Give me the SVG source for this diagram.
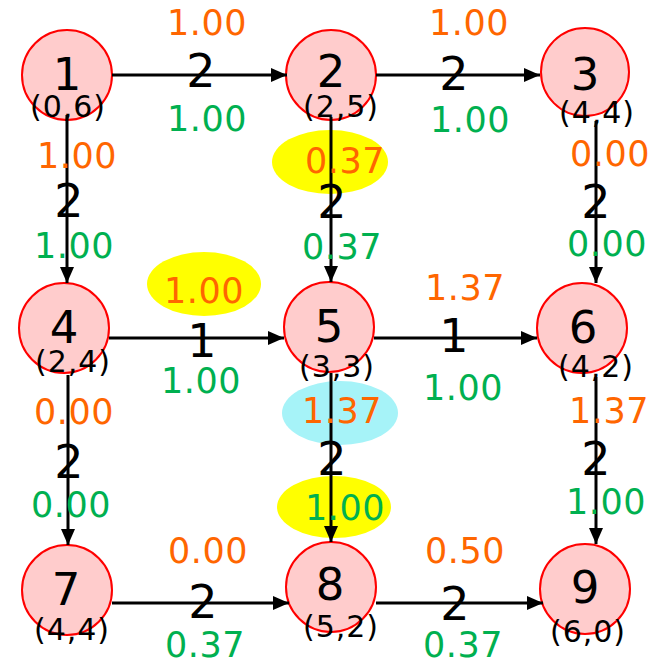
<svg xmlns="http://www.w3.org/2000/svg" width="658" height="664" viewBox="0 0 658 664">
<style>
text{font-family:"DejaVu Sans","Verdana",sans-serif;text-anchor:middle}
.n circle{fill:#FFCCCC;stroke:#FF0000;stroke-width:2}
.id{font-size:45px;fill:#000}
.cd{font-size:30px;fill:#000;letter-spacing:1px}
.w{font-size:46px;fill:#000}
.o{font-size:35px;fill:#FF6600;letter-spacing:0.5px}
.g{font-size:35px;fill:#00B050;letter-spacing:0.5px}
#edges line{stroke:#000;stroke-width:3;marker-end:url(#ah)}
</style>
<defs>
<marker id="ah" markerUnits="userSpaceOnUse" markerWidth="16" markerHeight="14" refX="16" refY="7" orient="auto">
<path d="M0,0 L16,7 L0,14 z" fill="#000"/>
</marker>
</defs>
<rect width="658" height="664" fill="#fff"/>
<g id="highlights">
<ellipse cx="204" cy="284" rx="57" ry="32" fill="#FFFF00"/>
<ellipse cx="330" cy="162" rx="58" ry="32" fill="#FFFF00"/>
<ellipse cx="340" cy="413" rx="58" ry="32" fill="#A6F3F8"/>
<ellipse cx="334" cy="507" rx="57" ry="31" fill="#FFFF00"/>
</g>
<g id="nodes-bg" class="n">
<circle cx="67" cy="75" r="45"/>
<circle cx="331" cy="75" r="45"/>
<circle cx="585" cy="72" r="44"/>
<circle cx="64" cy="328" r="45"/>
<circle cx="329" cy="327" r="45"/>
<circle cx="582" cy="328" r="45"/>
<circle cx="67" cy="590" r="45"/>
<circle cx="331" cy="587" r="45"/>
<circle cx="585" cy="589" r="45"/>
</g>
<g id="edges">
<line x1="112" y1="75" x2="287" y2="75"/>
<line x1="376" y1="75" x2="540" y2="75"/>
<line x1="109" y1="338" x2="284" y2="338"/>
<line x1="374" y1="338" x2="537" y2="338"/>
<line x1="112" y1="603" x2="289" y2="603"/>
<line x1="376" y1="603" x2="543" y2="603"/>
<line x1="67" y1="115" x2="67" y2="283"/>
<line x1="331" y1="117" x2="331" y2="282"/>
<line x1="596" y1="121" x2="596" y2="283"/>
<line x1="68" y1="375" x2="68" y2="545"/>
<line x1="331" y1="373" x2="331" y2="542"/>
<line x1="596" y1="377" x2="596" y2="544"/>
</g>
<g id="edge-labels">
<text class="o" x="207" y="35">1.00</text><text class="w" x="201" y="87">2</text><text class="g" x="207" y="131">1.00</text>
<text class="o" x="469" y="35">1.00</text><text class="w" x="454" y="90">2</text><text class="g" x="470" y="132">1.00</text>
<text class="o" x="77" y="168">1.00</text><text class="w" x="69" y="217">2</text><text class="g" x="74" y="258">1.00</text>
<text class="o" x="345" y="173">0.37</text><text class="w" x="332" y="218">2</text><text class="g" x="342" y="259">0.37</text>
<text class="o" x="610" y="166">0.00</text><text class="w" x="596" y="218">2</text><text class="g" x="607" y="256">0.00</text>
<text class="o" x="204" y="303">1.00</text><text class="w" x="202" y="357">1</text><text class="g" x="201" y="393">1.00</text>
<text class="o" x="465" y="300">1.37</text><text class="w" x="454" y="352">1</text><text class="g" x="463" y="400">1.00</text>
<text class="o" x="74" y="424">0.00</text><text class="w" x="69" y="478">2</text><text class="g" x="71" y="517">0.00</text>
<text class="o" x="342" y="423">1.37</text><text class="w" x="332" y="475">2</text><text class="g" x="345" y="520">1.00</text>
<text class="o" x="609" y="423">1.37</text><text class="w" x="596" y="475">2</text><text class="g" x="606" y="514">1.00</text>
<text class="o" x="208" y="563">0.00</text><text class="w" x="203" y="618">2</text><text class="g" x="205" y="657">0.37</text>
<text class="o" x="465" y="563">0.50</text><text class="w" x="455" y="620">2</text><text class="g" x="463" y="657">0.37</text>
</g>
<g id="node1"><text class="id" x="67" y="90">1</text><text class="cd" x="68" y="117">(0,6)</text></g>
<g id="node2"><text class="id" x="331" y="87">2</text><text class="cd" x="341" y="117">(2,5)</text></g>
<g id="node3"><text class="id" x="585" y="90">3</text><text class="cd" x="597" y="123">(4,4)</text></g>
<g id="node4"><text class="id" x="64" y="343">4</text><text class="cd" x="73" y="372">(2,4)</text></g>
<g id="node5"><text class="id" x="329" y="342">5</text><text class="cd" x="337" y="377">(3,3)</text></g>
<g id="node6"><text class="id" x="583" y="343">6</text><text class="cd" x="596" y="377">(4,2)</text></g>
<g id="node7"><text class="id" x="66" y="605">7</text><text class="cd" x="72" y="640">(4,4)</text></g>
<g id="node8"><text class="id" x="330" y="600">8</text><text class="cd" x="341" y="637">(5,2)</text></g>
<g id="node9"><text class="id" x="585" y="603">9</text><text class="cd" x="588" y="642">(6,0)</text></g>
</svg>
